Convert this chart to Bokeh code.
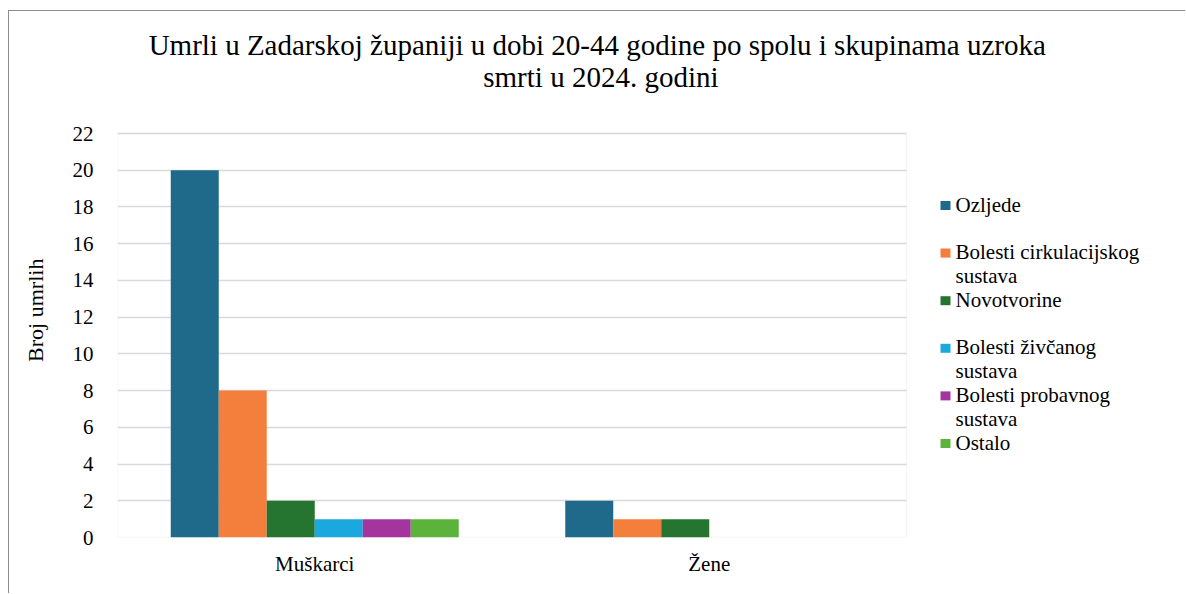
from bokeh.plotting import figure
from bokeh.models import (ColumnDataSource, Range1d, FixedTicker, LinearAxis,
                          Label, BoxAnnotation)
from bokeh.embed import file_html
from bokeh.resources import INLINE

# ---- data ----
categories = ["Muškarci", "Žene"]
series_names = ["Ozljede", "Bolesti cirkulacijskog\nsustava", "Novotvorine",
                "Bolesti živčanog\nsustava", "Bolesti probavnog\nsustava", "Ostalo"]
ozljede = [20, 2]
cirkulacijski = [8, 1]
novotvorine = [2, 1]
zivcani = [1, 0]
probavni = [1, 0]
ostalo = [1, 0]
series_values = [ozljede, cirkulacijski, novotvorine, zivcani, probavni, ostalo]
colors = ["#1f6a8a", "#f47e3c", "#25742f", "#1aa8df", "#a4359f", "#5cb33c"]
y_ticks = list(range(0, 23, 2))
title_lines = ["Umrli  u Zadarskoj županiji u dobi 20-44  godine po spolu i skupinama uzroka",
               "smrti u 2024.  godini"]
y_label = "Broj umrlih"

SERIF = "Liberation Serif"
GRID = "#d9d9d9"

# ---- layout (page pixels) ----
OX, OY = 9, 11                       # page position of canvas origin
W, H = 1186 - OX, 594 - OY
PL, PT, PR, PB = 117, 133, 906, 537  # plot-area box on the page
ncat = len(categories)
ymax = y_ticks[-1]
cat_px = (PR - PL) / ncat
y_px = (PB - PT) / ymax

# frame covers everything right of the y axis and above the x axis
FL = PL - OX
FB = H - (PB - OY)
p = figure(width=W, height=H, output_backend="svg", toolbar_location=None,
           x_range=Range1d(0, (W - FL) / cat_px),
           y_range=Range1d(0, (PB - OY) / y_px),
           min_border=0, min_border_left=FL, min_border_bottom=FB)
p.styles = {"border-left": "1px solid #8c8c8c", "border-top": "1px solid #8c8c8c",
            "margin-left": "8px", "margin-top": "10px"}
p.outline_line_color = None

def dx(px): return (px - PL) / cat_px
def dy(py): return (PB - py) / y_px

# bars
n = len(series_values)
bw = 48 / cat_px
xc = [k + 0.5 for k in range(ncat)]
for i, vals in enumerate(series_values):
    off = (i - (n - 1) / 2) * bw
    src = ColumnDataSource(dict(x=[c + off for c in xc], top=vals))
    p.vbar(x="x", top="top", width=bw, source=src,
           fill_color=colors[i], line_color=None)

# grid limited to plot area
p.xgrid.visible = False
p.ygrid.grid_line_color = GRID
p.ygrid.grid_line_width = 1.3
try:
    p.ygrid.cross_bounds = (0, ncat)
except Exception:
    p.ygrid.visible = False
    p.segment(x0=0, x1=ncat, y0=y_ticks, y1=y_ticks, line_color=GRID,
              line_width=1.3, level="underlay")
p.add_layout(BoxAnnotation(left=0, right=ncat, bottom=0, top=ymax,
                           fill_alpha=0, fill_color=None, line_color=GRID,
                           line_width=1.3, level="underlay"))

# y axis (ticks)
p.yaxis.ticker = FixedTicker(ticks=y_ticks)
p.yaxis.axis_line_color = None
p.yaxis.major_tick_line_color = None
p.yaxis.minor_tick_line_color = None
p.yaxis.major_label_standoff = 18
p.yaxis.major_label_text_font = SERIF
p.yaxis.major_label_text_font_size = "21px"
p.yaxis.major_label_text_color = "#000000"

# y axis title (separate axis without ticks); trailing no-break spaces shift
# the visible words down to where the original places them
lab_axis = LinearAxis(ticker=FixedTicker(ticks=[]),
                      axis_line_color=None, major_tick_line_color=None,
                      minor_tick_line_color=None, major_tick_out=0,
                      minor_tick_out=0, axis_label=y_label + "\u00a0" * 13,
                      axis_label_text_font=SERIF, axis_label_text_font_size="22px",
                      axis_label_text_font_style="normal",
                      axis_label_text_color="#000000", axis_label_standoff=22)
p.add_layout(lab_axis, "left")

# x axis
p.xaxis.ticker = FixedTicker(ticks=xc)
p.xaxis.major_label_overrides = {c: name for c, name in zip(xc, categories)}
p.xaxis.axis_line_color = None
p.xaxis.major_tick_line_color = None
p.xaxis.minor_tick_line_color = None
p.xaxis.major_tick_out = 0
p.xaxis.major_label_standoff = 14
p.xaxis.major_label_text_font = SERIF
p.xaxis.major_label_text_font_size = "21px"
p.xaxis.major_label_text_color = "#000000"

# title
for t, base in zip(title_lines, [44, 76]):
    p.add_layout(Label(x=dx(604), y=dy(base), text=t, text_font=SERIF,
                       text_font_size="29px", text_align="center",
                       text_baseline="alphabetic", text_color="#000000"))

# legend
step = 47.6
for i, name in enumerate(series_names):
    yc = 205 + i * step
    p.add_layout(BoxAnnotation(left=dx(940), right=dx(950), top=dy(yc - 4.5),
                               bottom=dy(yc + 4.5), fill_color=colors[i],
                               fill_alpha=1, line_color=None))
    for j, line in enumerate(name.split("\n")):
        p.add_layout(Label(x=dx(955), y=dy(yc + j * 24 - 1), text=line,
                           text_font=SERIF, text_font_size="21px",
                           text_baseline="middle", text_color="#000000"))

open("out.html", "w").write(file_html(p, INLINE))
